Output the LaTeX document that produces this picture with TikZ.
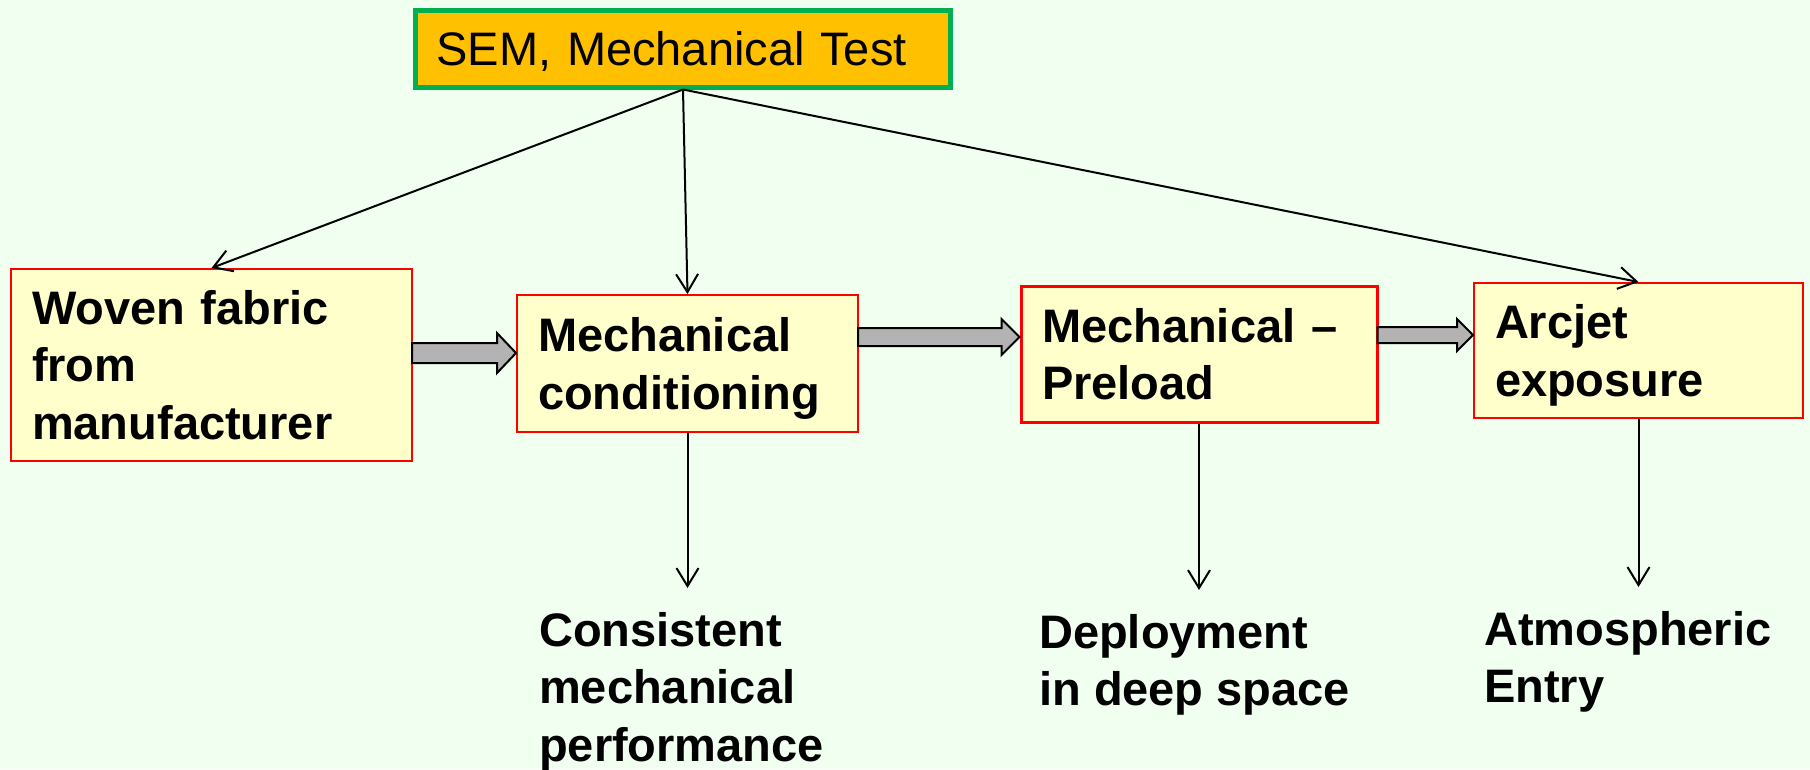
\documentclass[tikz,border=0pt]{standalone}
\usepackage{amsmath}
\usepackage{fontspec}
\setmainfont{Liberation Sans}
\usepackage{tikz}
\usetikzlibrary{positioning,calc,arrows.meta}
\definecolor{pageColor}{RGB}{240,255,240}
\definecolor{stageFill}{RGB}{255,255,204}
\definecolor{testFill}{RGB}{255,192,0}
\definecolor{testBorder}{RGB}{0,176,80}
\definecolor{arrowGray}{RGB}{179,179,179}
\newcommand{\stageFont}{\fontsize{47pt}{57.5pt}\selectfont}
% descenders of the last line should not push the text up
\newcommand{\lastLine}[1]{\smash[b]{#1}}
\tikzstyle{flowChart} = [x = 1pt, y = -1pt]
\tikzstyle{stageBox} = [draw=red, line width=2pt, fill=stageFill, align=left, inner xsep=21pt, inner ysep=0pt, font=\stageFont\bfseries]
\tikzstyle{testBox} = [draw=testBorder, line width=5pt, fill=testFill, align=left, inner xsep=21pt, inner ysep=0pt, font=\stageFont]
\tikzstyle{outcomeText} = [anchor=north west, inner sep=0pt, align=left, font=\stageFont\bfseries]
\tikzstyle{link} = [line width=2pt, -{Straight Barb[length=18pt, width=22pt]}]
\tikzstyle{outcomeLink} = [link, shorten >=24pt]
\tikzstyle{blockArrowStyle} = [fill=arrowGray, draw=black, line width=2pt, line join=miter]
% fat grey arrow from the east side of #1 to the west side of #2,
% centred on height #3, shaft half height #4, head length #5
\newcommand{\blockArrow}[5]{\filldraw [blockArrowStyle] let \p1 = (#1.east), \p2 = (#2.west), \p3 = (0,#3) in
  (\x1 - 1pt, \y3 + #4pt) -- (\x2 - #5pt, \y3 + #4pt) -- (\x2 - #5pt, \y3 + 2 * #4pt) -- (\x2, \y3)
  -- (\x2 - #5pt, \y3 - 2 * #4pt) -- (\x2 - #5pt, \y3 - #4pt) -- (\x1 - 1pt, \y3 - #4pt) -- cycle;}

\begin{document}
\begin{tikzpicture}[flowChart]
  \useasboundingbox [fill=pageColor] (0,0) rectangle (1810,769);

  % test box on top
  \node [testBox, minimum width=535pt, minimum height=77pt, text width=493pt] (sem) at (683,48.5) {\lastLine{SEM, Mechanical Test}};

  % process chain
  \node [stageBox, minimum width=401pt, minimum height=192pt, text width=359pt] (woven) at (211.5,365) {Woven fabric\\from\\manufacturer};
  \node [stageBox, minimum width=341pt, minimum height=137pt, text width=299pt] (cond) at (687.5,363.5) {Mechanical\\\lastLine{conditioning}};
  \node [stageBox, line width=3pt, minimum width=356pt, minimum height=136pt, text width=314pt] (pre) at (1199,354) {Mechanical --\\Preload};
  \node [stageBox, minimum width=329pt, minimum height=135pt, text width=287pt] (arc) at (1638.5,350.5) {Arcjet\\\lastLine{exposure}};

  \blockArrow{woven}{cond}{353}{10}{19}
  \blockArrow{cond}{pre}{337}{9}{18}
  \blockArrow{pre}{arc}{335}{8}{16}

  % what each step stands for
  \node [outcomeText] (consistent) at (539,612) {Consistent\\mechanical\\performance};
  \node [outcomeText] (deploy) at (1039,614) {Deployment\\in deep space};
  \node [outcomeText] (entry) at (1484,611) {Atmospheric\\Entry};

  \draw [link] (sem.south) -- (woven.north);
  \draw [link] (sem.south) -- (cond.north);
  \draw [link] (sem.south) -- (arc.north);

  \draw [outcomeLink] (cond.south) -- (cond.south |- consistent.north);
  \draw [outcomeLink] (pre.south) -- (pre.south |- deploy.north);
  \draw [outcomeLink] (arc.south) -- (arc.south |- entry.north);
\end{tikzpicture}
\end{document}
